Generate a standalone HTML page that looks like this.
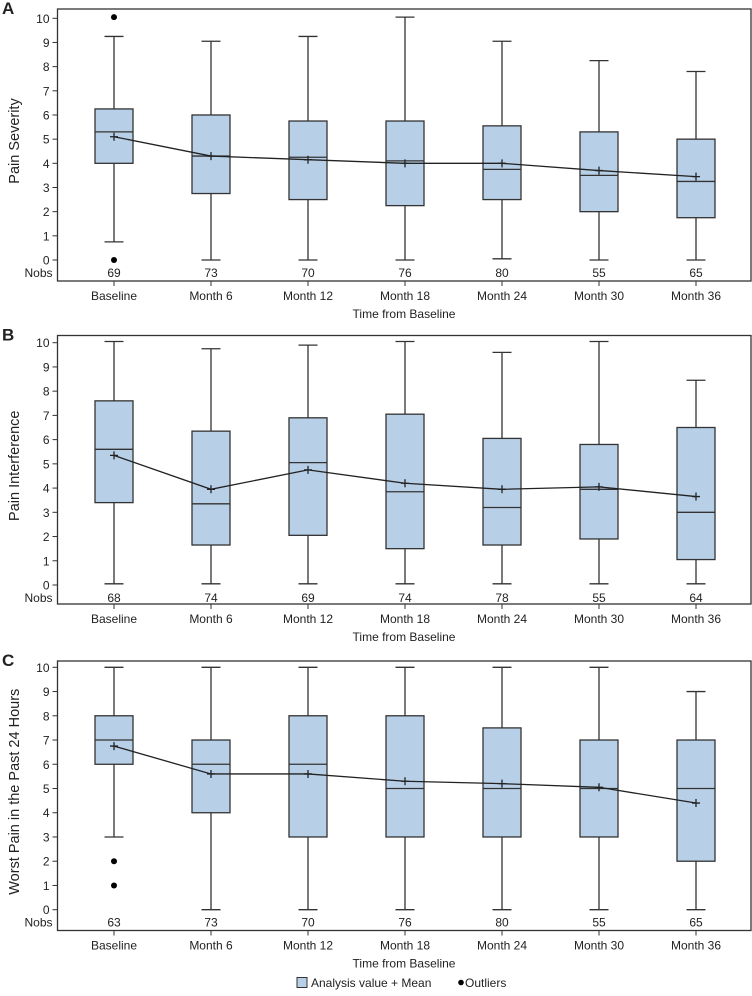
<!DOCTYPE html>
<html><head><meta charset="utf-8"><style>
body{margin:0;background:#fff;font-family:"Liberation Sans",Arial,sans-serif}
svg text{font-family:"Liberation Sans",Arial,sans-serif;fill:#222}
</style></head><body>
<svg id="chart" width="752" height="991" xmlns="http://www.w3.org/2000/svg"></svg>
<script>
const categories=["Baseline","Month 6","Month 12","Month 18","Month 24","Month 30","Month 36"];
const yTicks=[0,1,2,3,4,5,6,7,8,9,10];
// Panel A: Pain Severity
const aNobs=[69,73,70,76,80,55,65];
const aLow=[0.75,0,0,0,0.05,0,0];
const aQ1=[4.0,2.75,2.5,2.25,2.5,2.0,1.75];
const aMed=[5.3,4.3,4.25,4.1,3.75,3.5,3.25];
const aQ3=[6.25,6.0,5.75,5.75,5.55,5.3,5.0];
const aHigh=[9.25,9.05,9.25,10.05,9.05,8.25,7.8];
const aMean=[5.1,4.3,4.15,4.0,4.0,3.7,3.45];
const aOutliers=[[0,10.05],[0,0]];
// Panel B: Pain Interference
const bNobs=[68,74,69,74,78,55,64];
const bLow=[0.05,0.05,0.05,0.05,0.05,0.05,0.05];
const bQ1=[3.4,1.65,2.05,1.5,1.65,1.9,1.05];
const bMed=[5.6,3.35,5.05,3.85,3.2,3.95,3.0];
const bQ3=[7.6,6.35,6.9,7.05,6.05,5.8,6.5];
const bHigh=[10.05,9.75,9.9,10.05,9.6,10.05,8.45];
const bMean=[5.35,3.95,4.75,4.2,3.95,4.05,3.65];
const bOutliers=[];
// Panel C: Worst Pain in the Past 24 Hours
const cNobs=[63,73,70,76,80,55,65];
const cLow=[3,0,0,0,0,0,0];
const cQ1=[6,4,3,3,3,3,2];
const cMed=[7,6,6,5,5,5,5];
const cQ3=[8,7,8,8,7.5,7,7];
const cHigh=[10,10,10,10,10,10,9];
const cMean=[6.75,5.6,5.6,5.3,5.2,5.05,4.4];
const cOutliers=[[0,2],[0,1]];

const svg=document.getElementById('chart');
const NS='http://www.w3.org/2000/svg';
function mk(tag,attrs,parent){const e=document.createElementNS(NS,tag);for(const k in attrs)e.setAttribute(k,attrs[k]);(parent||svg).appendChild(e);return e;}
const left=57.5,right=751,x0=114,dx=97;
function xPos(i){return x0+i*dx;}

function panel(letter,title,top,bottom,y10,y0,low,q1,med,q3,high,mean,nobs,outl,key){
  const g=mk('g',{});
  
  
  const y=v=>y0+(y10-y0)*v/10;
  const L=mk('text',{x:2,y:top+5,'font-size':17,'font-weight':'bold'},g);L.textContent=letter;
  
  
  const fr=mk('rect',{x:left,y:top,width:right-left,height:bottom-top,fill:'none',stroke:'#333','stroke-width':1.3},g);
  
  
  yTicks.forEach(t=>{
    mk('line',{x1:left-5,x2:left,y1:y(t),y2:y(t),stroke:'#333'},g);
    const tx=mk('text',{x:left-8,y:y(t)+4.5,'font-size':12,'text-anchor':'end'},g);tx.textContent=t;
    
    
  });
  const nl=mk('text',{x:left-5,y:y0+17,'font-size':12,'text-anchor':'end'},g);nl.textContent='Nobs';
  
  
  const yt=mk('text',{x:0,y:0,'font-size':14.5,'text-anchor':'middle',transform:`translate(19,${(top+bottom)/2-4}) rotate(-90)`},g);yt.textContent=title;
  
  
  categories.forEach((c,i)=>{
    const x=xPos(i),w=19;
    mk('line',{x1:x,x2:x,y1:bottom,y2:bottom+5,stroke:'#333'},g);
    const ct=mk('text',{x:x,y:bottom+19,'font-size':12,'text-anchor':'middle'},g);ct.textContent=c;
    
    
    mk('line',{x1:x,x2:x,y1:y(high[i]),y2:y(q3[i]),stroke:'#333','stroke-width':1.3},g);
    mk('line',{x1:x,x2:x,y1:y(q1[i]),y2:y(low[i]),stroke:'#333','stroke-width':1.3},g);
    mk('line',{x1:x-9.5,x2:x+9.5,y1:y(high[i]),y2:y(high[i]),stroke:'#333','stroke-width':1.3},g);
    mk('line',{x1:x-9.5,x2:x+9.5,y1:y(low[i]),y2:y(low[i]),stroke:'#333','stroke-width':1.3},g);
    const b=mk('rect',{x:x-w,y:y(q3[i]),width:2*w,height:y(q1[i])-y(q3[i]),fill:'#b8cfe8',stroke:'#333','stroke-width':1.3},g);
    
    
    mk('line',{x1:x-w,x2:x+w,y1:y(med[i]),y2:y(med[i]),stroke:'#333','stroke-width':1.3},g);
    const nt=mk('text',{x:x,y:y0+17,'font-size':12,'text-anchor':'middle'},g);nt.textContent=nobs[i];
    
    
  });
  const pts=mean.map((m,i)=>xPos(i)+','+y(m)).join(' ');
  const ml=mk('polyline',{points:pts,fill:'none',stroke:'#222','stroke-width':1.3},g);
  
  
  mean.forEach((m,i)=>{const x=xPos(i),yy=y(m);
    mk('path',{d:`M${x-4},${yy}H${x+4}M${x},${yy-4}V${yy+4}`,stroke:'#222','stroke-width':1.3},g);});
  outl.forEach(o=>{const c=mk('circle',{cx:xPos(o[0]),cy:y(o[1]),r:3,fill:'#000'},g);
    
    });
  const xt=mk('text',{x:404,y:bottom+37,'font-size':12,'text-anchor':'middle'},g);xt.textContent='Time from Baseline';
  
  
}
panel('A','Pain Severity',9,281,18.3,260,aLow,aQ1,aMed,aQ3,aHigh,aMean,aNobs,aOutliers,'a');
panel('B','Pain Interference',335.5,604,342.7,585,bLow,bQ1,bMed,bQ3,bHigh,bMean,bNobs,bOutliers,'b');
panel('C','Worst Pain in the Past 24 Hours',661,930.5,667.3,909.7,cLow,cQ1,cMed,cQ3,cHigh,cMean,cNobs,cOutliers,'c');
const lg=mk('g',{});


mk('rect',{x:297,y:977.5,width:10,height:10,fill:'#b8cfe8',stroke:'#333'},lg);
const l1=mk('text',{x:311,y:987,'font-size':12},lg);l1.textContent='Analysis value + Mean';


mk('circle',{cx:461,cy:982.5,r:2.8,fill:'#000'},lg);
const l2=mk('text',{x:465,y:987,'font-size':12},lg);l2.textContent='Outliers';


</script>
</body></html>
